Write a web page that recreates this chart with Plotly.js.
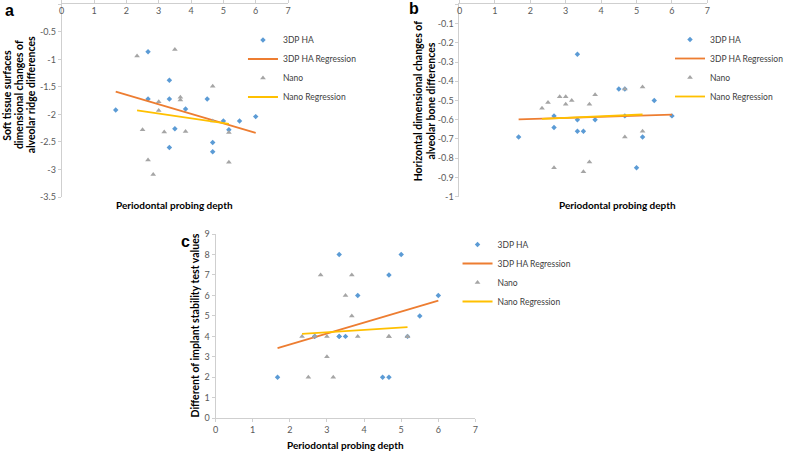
<!DOCTYPE html>
<html><head><meta charset="utf-8">
<script src="https://cdn.plot.ly/plotly-3.0.1.min.js"></script>
<style>html,body{margin:0;padding:0;background:#fff}</style>
</head><body><div id="chart" style="width:789px;height:451px"></div>
<script>
// ---------- data ----------
const probingHA   = [1.67, 2.67, 2.67, 3.33, 3.33, 3.33, 3.5, 3.83, 4.5, 4.67, 4.67, 5, 5.17, 5.5, 6];
const probingNano = [2.33, 2.5, 2.67, 2.83, 3, 3, 3.17, 3.5, 3.67, 3.67, 3.83, 4.67, 4.67, 5.17, 5.17];

const softHA   = [-1.92, -0.86, -1.72, -1.38, -1.72, -2.60, -2.26, -1.90, -1.72, -2.51, -2.68, -2.12, -2.28, -2.12, -2.04];
const softNano = [-0.94, -2.28, -2.83, -3.09, -1.77, -1.93, -2.32, -0.82, -1.69, -1.74, -2.31, -1.49, -2.12, -2.33, -2.87];

const horizHA   = [-0.69, -0.58, -0.64, -0.26, -0.60, -0.66, -0.66, -0.60, -0.44, -0.58, -0.44, -0.85, -0.69, -0.50, -0.58];
const horizNano = [-0.54, -0.51, -0.85, -0.48, -0.48, -0.52, -0.50, -0.87, -0.52, -0.82, -0.47, -0.44, -0.69, -0.43, -0.66];

const istHA   = [2, 4, 4, 8, 4, 4, 4, 6, 2, 2, 7, 8, 4, 5, 6];
const istNano = [4, 2, 4, 7, 4, 3, 2, 6, 7, 5, 4, 4, 4, 4, 4];

const xTickVals     = [0, 1, 2, 3, 4, 5, 6, 7];
const softTickVals  = [0, -0.5, -1, -1.5, -2, -2.5, -3, -3.5];
const horizTickVals = [0, -0.1, -0.2, -0.3, -0.4, -0.5, -0.6, -0.7, -0.8, -0.9, -1];
const istTickVals   = [0, 1, 2, 3, 4, 5, 6, 7, 8, 9];

const seriesNames = ['3DP HA', '3DP HA Regression', 'Nano', 'Nano Regression'];
const panelLetters = ['a', 'b', 'c'];
const xTitle = 'Periodontal probing depth';
const yTitleA = ['Soft tissue surfaces', 'dimensional changes of', 'alveolar ridge differences'];
const yTitleB = ['Horizontal dimensional changes of', 'alveolar bone differences'];
const yTitleC = ['Different of implant stability test values'];

// ---------- helpers ----------
function fit(x, y) {
  const n = x.length;
  const mx = x.reduce((a, b) => a + b, 0) / n;
  const my = y.reduce((a, b) => a + b, 0) / n;
  let sxy = 0, sxx = 0;
  for (let i = 0; i < n; i++) { sxy += (x[i] - mx) * (y[i] - my); sxx += (x[i] - mx) ** 2; }
  const b = sxy / sxx, a = my - b * mx;
  const lo = Math.min(...x), hi = Math.max(...x);
  return { x: [lo, hi], y: [a + b * lo, a + b * hi] };
}
const W = 789, H = 451;
const px = v => v / W;
const py = v => 1 - v / H;

const BLUE = '#5b9bd5', ORANGE = '#ed7d31', GREY = '#a5a5a5', GOLD = '#ffc000';
const FONT = 'Lato, "Open Sans", sans-serif';

function panelTraces(yHA, yNano, ax, lg) {
  const fHA = fit(probingHA, yHA), fN = fit(probingNano, yNano);
  return [
    { x: probingHA, y: yHA, mode: 'markers', type: 'scatter', name: seriesNames[0],
      marker: { symbol: 'diamond', size: 4.2, color: BLUE }, xaxis: 'x' + ax, yaxis: 'y' + ax, legend: lg },
    { x: fHA.x, y: fHA.y, mode: 'lines', type: 'scatter', name: seriesNames[1],
      line: { color: ORANGE, width: 1.8 }, xaxis: 'x' + ax, yaxis: 'y' + ax, legend: lg },
    { x: probingNano, y: yNano, mode: 'markers', type: 'scatter', name: seriesNames[2],
      marker: { symbol: 'triangle-up', size: 5, color: GREY }, xaxis: 'x' + ax, yaxis: 'y' + ax, legend: lg },
    { x: fN.x, y: fN.y, mode: 'lines', type: 'scatter', name: seriesNames[3],
      line: { color: GOLD, width: 1.8 }, xaxis: 'x' + ax, yaxis: 'y' + ax, legend: lg }
  ];
}

const traces = [].concat(
  panelTraces(softHA, softNano, '', 'legend'),
  panelTraces(horizHA, horizNano, '2', 'legend2'),
  panelTraces(istHA, istNano, '3', 'legend3')
);

const tickFont = { family: FONT, size: 9, color: '#595959' };
const AXC = '#cfcfcf';
function xAxis(dom, anchor, top) {
  const o = {
    domain: dom, anchor: anchor, range: [0, 7], tickvals: xTickVals, ticktext: xTickVals.map(String),
    showgrid: false, zeroline: false, showline: true, linecolor: AXC, linewidth: 1,
    ticks: 'outside', ticklen: 3, tickcolor: AXC, tickfont: tickFont, fixedrange: true
  };
  if (top) { o.side = 'top'; o.ticklabelposition = 'inside'; o.ticklabeloverflow = 'allow'; o.ticklabelstandoff = 2; }
  return o;
}
function yAxis(dom, anchor, rng, vals) {
  return {
    domain: dom, anchor: anchor, range: rng, tickvals: vals, ticktext: vals.map(v => String(Number(v.toFixed(2)))),
    showgrid: false, zeroline: false, showline: true, linecolor: AXC, linewidth: 1,
    ticks: 'outside', ticklen: 3, tickcolor: AXC, tickfont: tickFont, fixedrange: true
  };
}
const legendFont = { family: FONT, size: 8.5, color: '#404040' };
function legendAt(xp, yp) {
  return { x: px(xp), y: py(yp), xanchor: 'left', yanchor: 'middle', bgcolor: 'rgba(0,0,0,0)',
           font: legendFont, itemwidth: 30, tracegroupgap: 0 };
}
const titleFont = { family: FONT, size: 10.5, color: '#000', weight: 'bold' };
const xTitleFont = { family: FONT, size: 10, color: '#000', weight: 'bold' };
const letterFont = { family: 'Liberation Sans, Arial, sans-serif', size: 16, weight: 'bold', color: '#000' };

function note(text, xp, yp, font, angle) {
  return { text: text, xref: 'paper', yref: 'paper', x: px(xp), y: py(yp), showarrow: false,
           font: font, xanchor: 'center', yanchor: 'middle', textangle: angle || 0 };
}

const annotations = [
  note(xTitle, 178.5, 205.5, xTitleFont),
  note(xTitle, 630, 205.5, xTitleFont),
  note(xTitle, 352.5, 445, xTitleFont),
  note(panelLetters[0], 10, 10, letterFont),
  note(panelLetters[1], 423, 9, letterFont),
  note(panelLetters[2], 189.5, 241, letterFont)
];
const aLineX = [7, 19.5, 32];
yTitleA.forEach((t, i) => annotations.push(note(t, aLineX[i], 95, titleFont, -90)));
const bLineX = [427, 439.5];
yTitleB.forEach((t, i) => annotations.push(note(t, bLineX[i], 101, titleFont, -90)));
yTitleC.forEach(t => annotations.push(note(t, 199, 325.5, titleFont, -90)));

const layout = {
  width: W, height: H, margin: { l: 0, r: 0, t: 0, b: 0 },
  paper_bgcolor: '#fff', plot_bgcolor: 'rgba(0,0,0,0)', font: { family: FONT },
  xaxis:  xAxis([px(63), px(294)], 'y', true),
  yaxis:  yAxis([py(197), py(4.3)], 'x', [-3.5, 0], softTickVals),
  xaxis2: xAxis([px(469), px(722)], 'y2', true),
  yaxis2: yAxis([py(196.7), py(4.3)], 'x2', [-1, 0], horizTickVals),
  xaxis3: xAxis([px(220), px(485.3)], 'y3', false),
  yaxis3: yAxis([py(418.3), py(234)], 'x3', [0, 9], istTickVals),
  legend:  legendAt(248, 68.5),
  legend2: legendAt(684, 68),
  legend3: legendAt(467, 273),
  annotations: annotations
};

Plotly.newPlot('chart', traces, layout, { displayModeBar: false, staticPlot: true });
</script></body></html>
